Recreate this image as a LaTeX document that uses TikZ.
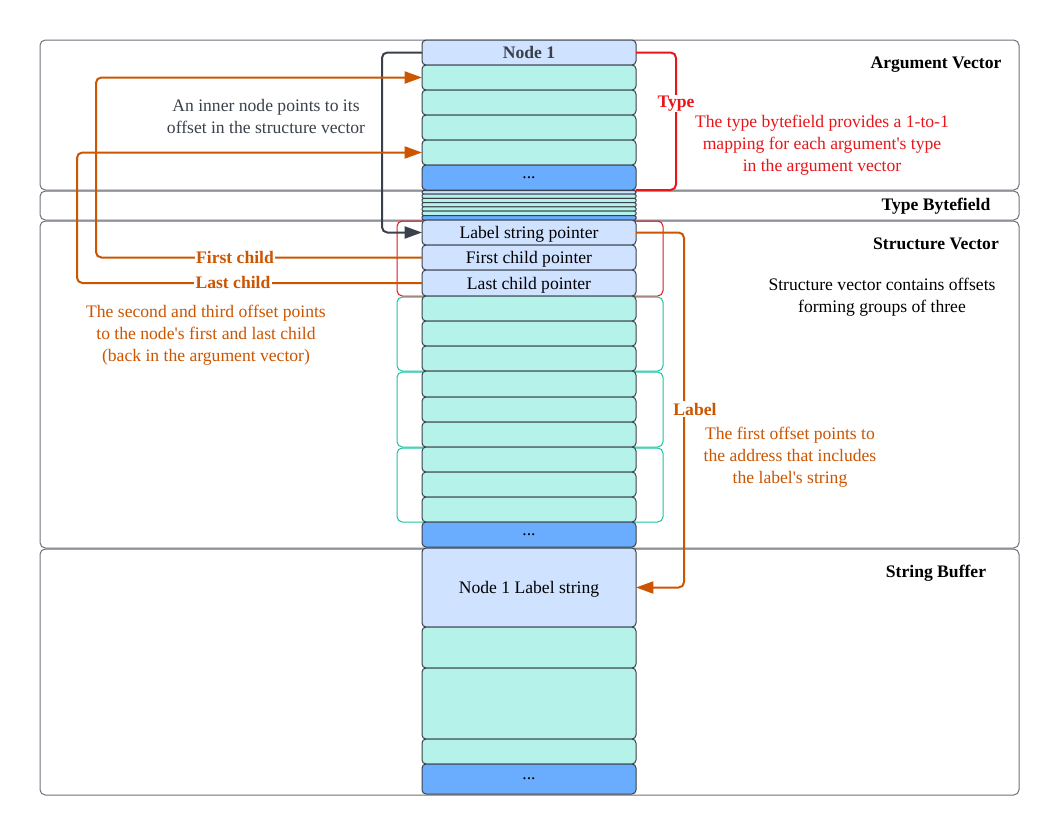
\documentclass[tikz,border=0pt]{standalone}
\usepackage{fontspec}
\setmainfont{Liberation Serif}
\usetikzlibrary{arrows.meta}
\definecolor{lb}{HTML}{CFE2FF}
\definecolor{cy}{HTML}{B5F3EA}
\definecolor{db}{HTML}{6AADFF}
\definecolor{dk}{HTML}{3A414A}
\definecolor{pg}{HTML}{6E737B}
\definecolor{org}{HTML}{CC5500}
\definecolor{rd}{HTML}{E8161B}
\definecolor{tl}{HTML}{1DC4A4}
\newcommand\cellat[5]{\node[cell,fill=#4,minimum height={(#3-#2)*0.75pt}] (#1) at (529,{(#2+#3)/2}) {#5};}
\newcommand\thinat[4]{\node[cell,rounded corners=1pt,fill=#4,minimum height={(#3-#2)*0.75pt}] (#1) at (529,{(#2+#3)/2}) {};}
\newcommand\panelat[3]{\node[panel,minimum height={(#3-#2)*0.75pt}] (#1) at (529.5,{(#2+#3)/2}) {};}
\newcommand\q{\textquotesingle}
\begin{document}
\begin{tikzpicture}[x=0.75pt,y=-0.75pt,
 cell/.style={draw=dk,line width=0.75pt,rounded corners=3pt,inner sep=0pt,outer sep=0pt,minimum width=160.5pt,text depth=0pt,font=\fontsize{13.2}{15}\selectfont},
 panel/.style={draw=pg,line width=0.75pt,rounded corners=4pt,inner sep=0pt,outer sep=0pt,minimum width=734.25pt,fill=white},
 ptitle/.style={font=\bfseries\fontsize{13.2}{15}\selectfont},
 note/.style={align=center,font=\fontsize{13.2}{16.5}\selectfont},
 conn/.style={line width=1.5pt,rounded corners=4pt},
 tip/.style={-{Triangle[length=13pt,width=9pt]}},
 grp/.style={line width=0.75pt,rounded corners=4pt},
 blab/.style={font=\bfseries\fontsize{13.2}{15}\selectfont,fill=white,inner sep=1pt}]
\useasboundingbox (0,0) rectangle (1064,835);
% panels
\panelat{pa}{40}{190}
\panelat{pt}{191}{220}
\panelat{ps}{221}{548}
\panelat{pb}{549}{795}
\node[ptitle] (ta) at (936,65) {Argument Vector};
\node[ptitle] (tt) at (936,206.5) {Type Bytefield};
\node[ptitle] (ts) at (936,244) {Structure Vector};
\node[ptitle] (tb) at (936,573) {String Buffer};
% group boxes
\draw[grp,draw=rd] (397,221) rectangle (663,296);
\draw[grp,draw=tl] (397,297) rectangle (663,371);
\draw[grp,draw=tl] (397,372) rectangle (663,447);
\draw[grp,draw=tl] (397,448) rectangle (663,522);
% argument vector
\cellat{n1}{40}{65}{lb}{\textbf{\textcolor{dk}{Node 1}}}
\cellat{a1}{65}{90}{cy}{}
\cellat{a2}{90}{115}{cy}{}
\cellat{a3}{115}{140}{cy}{}
\cellat{a4}{140}{165}{cy}{}
\cellat{ad}{165}{190}{db}{...}
% type bytefield
\thinat{t0}{190.5}{194}{lb}
\thinat{t1}{194}{198.3}{cy}
\thinat{t2}{198.3}{202.6}{cy}
\thinat{t3}{202.6}{206.9}{cy}
\thinat{t4}{206.9}{211.2}{cy}
\thinat{t5}{211.2}{215.5}{cy}
\thinat{t6}{215.5}{220}{db}
% structure vector
\cellat{lsp}{220}{245}{lb}{Label string pointer}
\cellat{fcp}{245}{270}{lb}{First child pointer}
\cellat{lcp}{270}{296}{lb}{Last child pointer}
\cellat{s1}{296}{321}{cy}{}
\cellat{s2}{321}{346}{cy}{}
\cellat{s3}{346}{371}{cy}{}
\cellat{s4}{371}{397}{cy}{}
\cellat{s5}{397}{422}{cy}{}
\cellat{s6}{422}{447}{cy}{}
\cellat{s7}{447}{472}{cy}{}
\cellat{s8}{472}{497}{cy}{}
\cellat{s9}{497}{522}{cy}{}
\cellat{sd}{522}{547}{db}{...}
% string buffer
\cellat{nls}{548}{627}{lb}{Node 1 Label string}
\cellat{b1}{627}{668}{cy}{}
\cellat{b2}{668}{739}{cy}{}
\cellat{b3}{739}{764}{cy}{}
\cellat{bd}{764}{794}{db}{...}
% connectors
\draw[conn,dk,tip] (n1.west) -- ++(-40,0) |- (lsp.west);
\draw[conn,rd] (n1.east) -- ++(40,0) |- (ad.south east);
\draw[conn,org,tip] (lsp.east) -- ++(48,0) |- (nls.east);
\draw[conn,org,tip] (fcp.west) -- ++(-326,0) |- (a1.west);
\draw[conn,org,tip] (lcp.west) -- ++(-345,0) |- (a4.west);
% labels
\node[blab,text=rd] (typel) at (676,103.5) {Type};
\node[blab,text=org] (labl) at (695,409) {Label};
\node[blab,text=org] (fcl) at (235,257.5) {First child};
\node[blab,text=org] (lcl) at (233,282.5) {Last child};
% notes
\node[note,text=dk] (inner) at (266,116) {An inner node points to its\\offset in the structure vector};
\node[note,text=rd] (typen) at (822,145) {The type bytefield provides a 1-to-1\\mapping for each argument\q s type\\in the argument vector};
\node[note] (strn) at (882,297) {Structure vector contains offsets\\forming groups of three};
\node[note,text=org] (secn) at (206,335) {The second and third offset points\\to the node\q s first and last child\\(back in the argument vector)};
\node[note,text=org] (labn) at (790,457) {The first offset points to\\the address that includes\\the label\q s string};
\end{tikzpicture}
\end{document}
